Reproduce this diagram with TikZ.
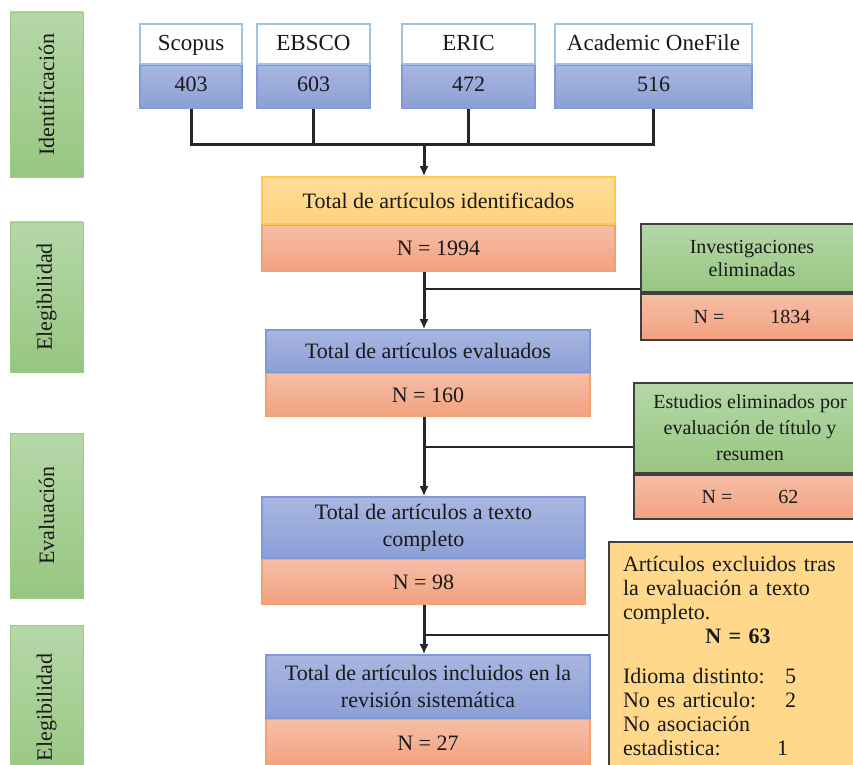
\documentclass[tikz,border=0pt]{standalone}
\usepackage{fontspec}
\setmainfont{Liberation Serif}
\usetikzlibrary{arrows.meta,positioning}

\definecolor{greentop}{HTML}{B5D7A8}
\definecolor{greenbot}{HTML}{97C681}
\definecolor{greenline}{HTML}{9CCB86}
\definecolor{bluetop}{HTML}{A8B6E0}
\definecolor{bluebot}{HTML}{8C9FD6}
\definecolor{blueline}{HTML}{7E9AD8}
\definecolor{salmtop}{HTML}{F6BEA7}
\definecolor{salmbot}{HTML}{F2A17E}
\definecolor{salmline}{HTML}{F2A070}
\definecolor{yeltop}{HTML}{FFDC96}
\definecolor{yelbot}{HTML}{FFD381}
\definecolor{yelline}{HTML}{FFC94A}
\definecolor{srcline}{HTML}{9DC3E6}
\definecolor{exclfill}{HTML}{FFD88C}
\definecolor{darkline}{HTML}{404040}

\begin{document}
\begin{tikzpicture}[>={Latex[length=5pt,width=4.5pt]}, x=0.5pt, y=-0.5pt,
  font=\fontsize{11}{13.5}\selectfont, text=black!90,
  stage/.style={draw=greenline, top color=greentop, bottom color=greenbot,
    minimum width=36.5pt, minimum height=#1, inner sep=0pt},
  srcname/.style={draw=srcline, fill=white, line width=0.8pt, minimum height=20pt, inner sep=0pt,
    text depth=1pt, font=\fontsize{11.5}{13.5}\selectfont},
  srcnum/.style={draw=blueline, top color=bluetop, bottom color=bluebot, line width=0.8pt,
    minimum height=21.5pt, inner sep=0pt, text depth=3pt},
  idbox/.style={draw=yelline, top color=yeltop, bottom color=yelbot, line width=0.8pt, align=center},
  mainbox/.style={draw=blueline, top color=bluetop, bottom color=bluebot, line width=0.8pt, align=center},
  nbox/.style={draw=salmline, top color=salmtop, bottom color=salmbot, line width=0.8pt},
  sidebox/.style={draw=darkline, top color=greentop, bottom color=greenbot, line width=1pt, align=center},
  sidenum/.style={draw=darkline, top color=salmtop, bottom color=salmbot, line width=1pt,
    font=\fontsize{10}{12}\selectfont},
  flow/.style={line width=1.5pt, draw=black!85},
  branch/.style={line width=1pt, draw=black!85}]

\clip (0,0) rectangle (853,765);

% stages
\node[stage=82.5pt, label={[rotate=90]center:Identificación}] (st1) at (46.5,94.5) {};
\node[stage=75pt, label={[rotate=90]center:Elegibilidad}] (st2) at (46.5,297) {};
\node[stage=82.5pt, label={[rotate=90]center:Evaluación}] (st3) at (46.5,515.5) {};
\node[stage=82.5pt, label={[rotate=90]center:Elegibilidad}] (st4) at (46.5,707.5) {};

% sources
\foreach \name/\cx/\w/\num [count=\i] in {Scopus/191/51/403, EBSCO/313.5/56.5/603,
    ERIC/468.5/66.5/472, Academic OneFile/653.5/98.5/516}
{
  \node[srcname, minimum width=\w pt] (src\i) at (\cx,44) {\name};
  \node[srcnum, minimum width=\w pt, below=0pt of src\i] (num\i) {\num};
}

\coordinate (j0) at (424,145);
\foreach \i in {1,...,4}
  \draw[flow, line join=miter] (num\i.south) |- (j0);

% main column
\node[idbox, minimum width=176.5pt, minimum height=23.5pt] (ident) at (438.5,200.5)
  {Total de artículos identificados};
\node[nbox, minimum width=176.5pt, minimum height=23pt, below=0pt of ident] (identN) {N = 1994};

\node[mainbox, minimum width=162pt, minimum height=21pt] (evalT) at (428,351)
  {Total de artículos evaluados};
\node[nbox, minimum width=162pt, minimum height=21.5pt, below=0pt of evalT] (evalN) {N = 160};

\node[mainbox, minimum width=161.5pt, minimum height=30.5pt, inner sep=1pt] (fullT) at (423.5,527.5)
  {Total de artículos a texto\\completo};
\node[nbox, minimum width=161.5pt, minimum height=22.5pt, below=0pt of fullT] (fullN) {N = 98};

\node[mainbox, minimum width=162pt, minimum height=31.5pt, inner sep=1pt] (inclT) at (428,686.5)
  {Total de artículos incluidos en la\\revisión sistemática};
\node[nbox, minimum width=162pt, minimum height=23.5pt, below=0pt of inclT] (inclN) {N = 27};

% removed
\node[sidebox, minimum width=111pt, minimum height=34pt, font=\fontsize{10}{11.5}\selectfont]
  (invT) at (752,258) {Investigaciones\\eliminadas};
\node[sidenum, minimum width=111pt, minimum height=23pt, below=0pt of invT] (invN)
  {N =\hspace{2.3em}1834};

\node[sidebox, minimum width=116pt, minimum height=45pt, font=\fontsize{10}{13}\selectfont]
  (estT) at (750,428) {Estudios eliminados por\\evaluación de título y\\resumen};
\node[sidenum, minimum width=116pt, minimum height=22pt, below=0pt of estT] (estN)
  {N =\hspace{2.3em}62};

\node[draw=darkline, fill=exclfill, line width=1pt, anchor=north west, text width=115pt,
  inner sep=7pt, align=left, font=\fontsize{11}{12}\selectfont] (excl) at (608,541)
  {Artículos excluidos tras\\
   la evaluación a texto\\
   completo.\\
   \makebox[115pt]{\bfseries N = 63}\\[8pt]
   \makebox[81pt][l]{Idioma distinto:}5\\
   \makebox[81pt][l]{No es articulo:}2\\
   No asociación\\
   \makebox[77pt][l]{estadistica:}1\\[6pt]};

% arrows
\draw[flow, ->] (j0) -- (j0 |- ident.north);
\draw[flow, ->] (j0 |- identN.south) -- (j0 |- evalT.north);
\draw[flow, ->] (j0 |- evalN.south) -- (j0 |- fullT.north);
\draw[flow, ->] (j0 |- fullN.south) -- (j0 |- inclT.north);

\coordinate (b1) at (424,289);
\coordinate (b2) at (424,447);
\coordinate (b3) at (424,635);
\draw[branch] (b1) -- (b1 -| invT.west);
\draw[branch] (b2) -- (b2 -| estT.west);
\draw[branch] (b3) -- (b3 -| excl.west);

\end{tikzpicture}
\end{document}
